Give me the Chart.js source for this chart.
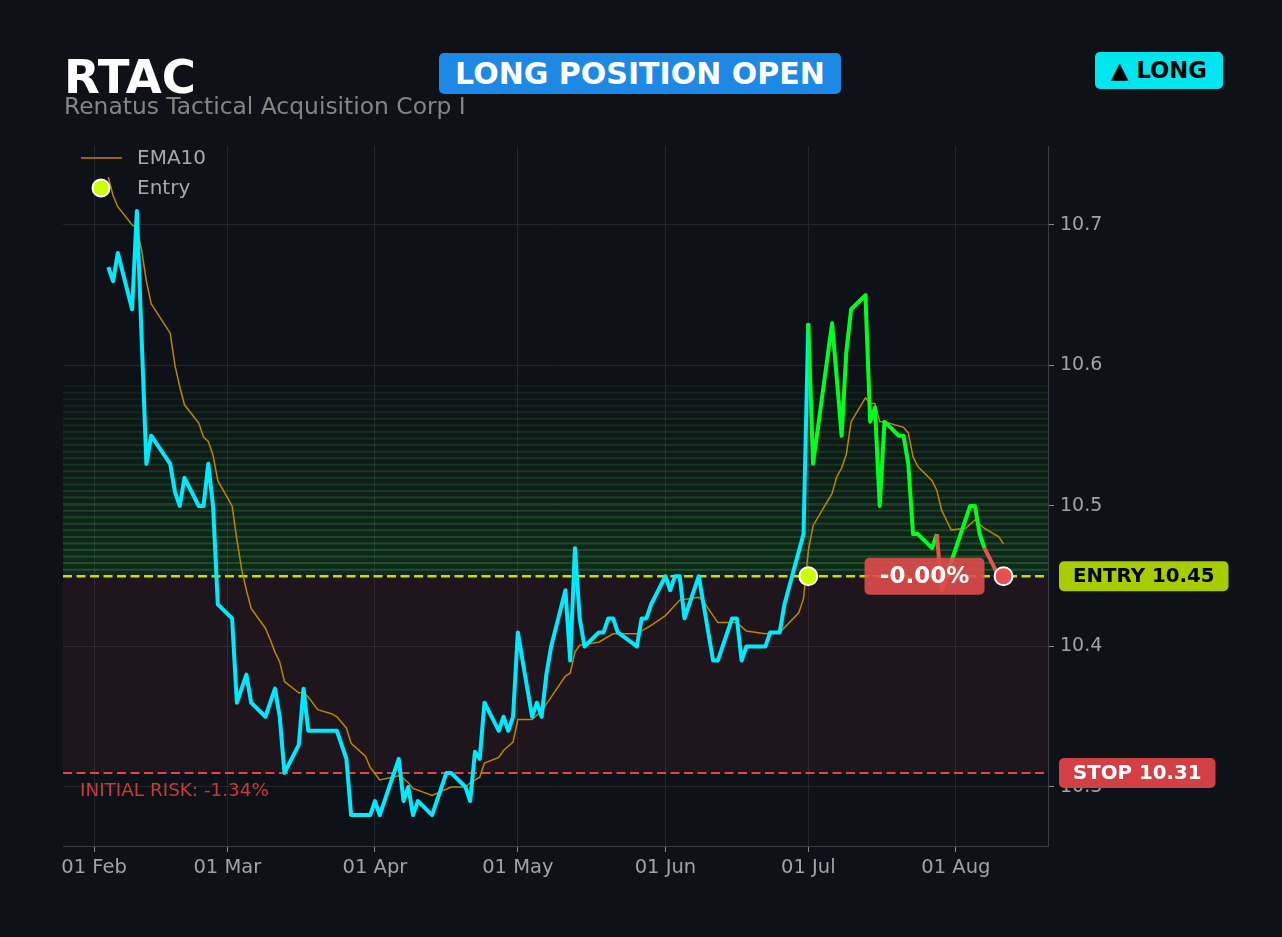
<!DOCTYPE html>
<html>
<head>
<meta charset="utf-8">
<title>RTAC</title>
<script src="https://cdn.jsdelivr.net/npm/chart.js@4.4.1/dist/chart.umd.min.js"></script>
<style>
html, body { margin: 0; padding: 0; background: #0e1117; }
#wrap { position: relative; width: 1282px; height: 937px; overflow: hidden; font-family: "DejaVu Sans", sans-serif; }
#chart { position: absolute; left: 0; top: 0; }
.hdr { position: absolute; white-space: nowrap; }
#ticker { left: 64px; top: 54px; font-size: 46.5px; line-height: 46.5px; font-weight: bold; color: #ffffff; }
#name { left: 64px; top: 95px; font-size: 23.4px; line-height: 23.4px; color: #858585; }
.badge { position: absolute; display: flex; align-items: center; justify-content: center; border-radius: 5px; font-weight: bold; white-space: nowrap; }
#status { left: 439px; top: 53px; width: 402px; height: 41px; background: #1e88e5; color: #ffffff; font-size: 30px; line-height: 30px; }
#side { left: 1095px; top: 52px; width: 128px; height: 37px; background: #00e5ee; color: #000000; font-size: 22.7px; line-height: 22.7px; }
</style>
</head>
<body>
<div id="wrap">
  <canvas id="chart" width="1282" height="937"></canvas>
  <div class="hdr" id="ticker">RTAC</div>
  <div class="hdr" id="name">Renatus Tactical Acquisition Corp I</div>
  <div class="badge" id="status">LONG POSITION OPEN</div>
  <div class="badge" id="side">▲ LONG</div>
</div>
<script>
// ========================================
// DATA
// ========================================

// Closing prices (turning points of the line)
const priceDates = [
    '2026-02-04','2026-02-05','2026-02-06','2026-02-09','2026-02-10','2026-02-12','2026-02-13',
    '2026-02-17','2026-02-18','2026-02-19','2026-02-20','2026-02-23','2026-02-24','2026-02-25',
    '2026-02-26','2026-02-27','2026-03-02','2026-03-03','2026-03-05','2026-03-06','2026-03-09',
    '2026-03-11','2026-03-12','2026-03-13','2026-03-16','2026-03-17','2026-03-18','2026-03-24',
    '2026-03-26','2026-03-27','2026-03-31','2026-04-01','2026-04-02','2026-04-06','2026-04-07',
    '2026-04-08','2026-04-09','2026-04-10','2026-04-13','2026-04-16','2026-04-17','2026-04-20',
    '2026-04-21','2026-04-22','2026-04-23','2026-04-24','2026-04-27','2026-04-28','2026-04-29',
    '2026-04-30','2026-05-01','2026-05-04','2026-05-05','2026-05-06','2026-05-07','2026-05-08',
    '2026-05-11','2026-05-12','2026-05-13','2026-05-14','2026-05-15','2026-05-18','2026-05-19',
    '2026-05-20','2026-05-21','2026-05-22','2026-05-26','2026-05-27','2026-05-28','2026-05-29',
    '2026-06-01','2026-06-02','2026-06-03','2026-06-04','2026-06-05','2026-06-08','2026-06-11',
    '2026-06-12','2026-06-15','2026-06-16','2026-06-17','2026-06-18','2026-06-22','2026-06-23',
    '2026-06-25','2026-06-26','2026-06-30','2026-07-01','2026-07-02','2026-07-06','2026-07-08',
    '2026-07-09','2026-07-10','2026-07-13','2026-07-14','2026-07-15','2026-07-16','2026-07-17',
    '2026-07-20','2026-07-21','2026-07-22','2026-07-23','2026-07-24','2026-07-27','2026-07-28',
    '2026-07-29','2026-07-30','2026-08-04','2026-08-05','2026-08-06','2026-08-07','2026-08-10',
    '2026-08-11'
];
const priceValues = [
    10.67, 10.66, 10.68, 10.64, 10.71, 10.53, 10.55,
    10.53, 10.51, 10.50, 10.52, 10.50, 10.50, 10.53,
    10.50, 10.43, 10.42, 10.36, 10.38, 10.36, 10.35,
    10.37, 10.35, 10.31, 10.33, 10.37, 10.34, 10.34,
    10.32, 10.28, 10.28, 10.29, 10.28, 10.32, 10.29,
    10.30, 10.28, 10.29, 10.28, 10.31, 10.31, 10.30,
    10.29, 10.325, 10.32, 10.36, 10.34, 10.35, 10.34,
    10.35, 10.41, 10.35, 10.36, 10.35, 10.38, 10.40,
    10.44, 10.39, 10.47, 10.42, 10.40, 10.41, 10.41,
    10.42, 10.42, 10.41, 10.40, 10.42, 10.42, 10.43,
    10.45, 10.44, 10.45, 10.45, 10.42, 10.45, 10.39,
    10.39, 10.42, 10.42, 10.39, 10.40, 10.40, 10.41,
    10.41, 10.43, 10.48, 10.63, 10.53, 10.63, 10.55,
    10.61, 10.64, 10.65, 10.56, 10.57, 10.50, 10.56,
    10.55, 10.55, 10.53, 10.48, 10.48, 10.47, 10.48,
    10.44, 10.45, 10.50, 10.50, 10.48, 10.47, 10.45,
    10.45
];

// EMA10
const emaDates = [
    '2026-02-04','2026-02-05','2026-02-06','2026-02-09','2026-02-10','2026-02-11','2026-02-12',
    '2026-02-13','2026-02-17','2026-02-18','2026-02-19','2026-02-20','2026-02-23','2026-02-24',
    '2026-02-25','2026-02-26','2026-02-27','2026-03-02','2026-03-03','2026-03-04','2026-03-05',
    '2026-03-06','2026-03-09','2026-03-10','2026-03-11','2026-03-12','2026-03-13','2026-03-16',
    '2026-03-17','2026-03-18','2026-03-20','2026-03-23','2026-03-24','2026-03-26','2026-03-27',
    '2026-03-30','2026-03-31','2026-04-02','2026-04-06','2026-04-07','2026-04-08','2026-04-09',
    '2026-04-13','2026-04-17','2026-04-20','2026-04-21','2026-04-23','2026-04-24','2026-04-27',
    '2026-04-28','2026-04-30','2026-05-01','2026-05-04','2026-05-06','2026-05-08','2026-05-11',
    '2026-05-12','2026-05-13','2026-05-14','2026-05-18','2026-05-21','2026-05-26','2026-05-29',
    '2026-06-01','2026-06-04','2026-06-08','2026-06-09','2026-06-12','2026-06-16','2026-06-18',
    '2026-06-22','2026-06-25','2026-06-29','2026-06-30','2026-07-01','2026-07-02','2026-07-06',
    '2026-07-07','2026-07-08','2026-07-09','2026-07-10','2026-07-13','2026-07-14','2026-07-15',
    '2026-07-16','2026-07-17','2026-07-21','2026-07-22','2026-07-23','2026-07-24','2026-07-27',
    '2026-07-28','2026-07-29','2026-07-30','2026-07-31','2026-08-03','2026-08-05','2026-08-07',
    '2026-08-10','2026-08-11'
];
const emaValues = [
    10.734, 10.721, 10.713, 10.700, 10.698, 10.682, 10.660,
    10.644, 10.623, 10.600, 10.585, 10.572, 10.559, 10.549,
    10.546, 10.536, 10.518, 10.500, 10.476, 10.455, 10.440,
    10.427, 10.413, 10.405, 10.396, 10.389, 10.375, 10.367,
    10.367, 10.364, 10.355, 10.352, 10.350, 10.342, 10.331,
    10.322, 10.314, 10.305, 10.308, 10.306, 10.303, 10.299,
    10.294, 10.300, 10.300, 10.303, 10.307, 10.317, 10.321,
    10.326, 10.332, 10.348, 10.348, 10.354, 10.364, 10.379,
    10.381, 10.396, 10.401, 10.403, 10.409, 10.409, 10.415,
    10.422, 10.433, 10.435, 10.432, 10.417, 10.417, 10.411,
    10.409, 10.410, 10.424, 10.434, 10.468, 10.486, 10.509,
    10.521, 10.527, 10.537, 10.560, 10.577, 10.573, 10.573,
    10.560, 10.560, 10.556, 10.552, 10.535, 10.528, 10.518,
    10.511, 10.497, 10.490, 10.483, 10.484, 10.490, 10.484,
    10.478, 10.473
];

// Trade levels
const entryDate = '2026-07-01';
const entryPrice = 10.45;
const stopPrice = 10.31;

// Axis ticks
const monthTicks = ['2026-02-01','2026-03-01','2026-04-01','2026-05-01','2026-06-01','2026-07-01','2026-08-01'];
const monthLabels = ['01 Feb','01 Mar','01 Apr','01 May','01 Jun','01 Jul','01 Aug'];
const priceTicks = [10.3, 10.4, 10.5, 10.6, 10.7];

// ========================================
// HELPERS
// ========================================

const CYAN = '#00eaff';
const GREEN = '#00ff1e';
const RED = '#e5534b';
const FONT = '"DejaVu Sans", sans-serif';

const START = Date.UTC(2026, 1, 1);
function dayOf(s) {
    return (Date.parse(s + 'T00:00:00Z') - START) / 86400000;
}

function roundRect(ctx, x, y, w, h, r) {
    ctx.beginPath();
    ctx.moveTo(x + r, y);
    ctx.arcTo(x + w, y, x + w, y + h, r);
    ctx.arcTo(x + w, y + h, x, y + h, r);
    ctx.arcTo(x, y + h, x, y, r);
    ctx.arcTo(x, y, x + w, y, r);
    ctx.closePath();
}

const entryIndex = priceDates.indexOf(entryDate);
const lastDate = priceDates[priceDates.length - 1];
const lastClose = priceValues[priceValues.length - 1];

// ========================================
// ZONES / LABELS PLUGIN
// ========================================

const tradeOverlay = {
    id: 'tradeOverlay',
    beforeDatasetsDraw(chart) {
        const { ctx, chartArea: a, scales: { y } } = chart;
        const w = a.right - a.left;
        const yE = y.getPixelForValue(entryPrice);
        const yS = y.getPixelForValue(stopPrice);
        const risk = entryPrice - stopPrice;
        const yT = y.getPixelForValue(entryPrice + risk);

        ctx.save();
        ctx.beginPath();
        ctx.rect(a.left, a.top, w, a.bottom - a.top);
        ctx.clip();

        // risk zone
        ctx.fillStyle = 'rgba(255,80,110,0.07)';
        ctx.fillRect(a.left, yE, w, yS - yE);

        // reward band, fading upward
        const g = ctx.createLinearGradient(0, yT - 10, 0, yE);
        g.addColorStop(0, 'rgba(40,200,70,0)');
        g.addColorStop(1, 'rgba(40,200,70,0.13)');
        ctx.fillStyle = g;
        ctx.fillRect(a.left, yT - 10, w, yE - yT + 10);
        const N = 30;
        ctx.lineWidth = 2;
        for (let i = 1; i < N; i++) {
            const yy = y.getPixelForValue(entryPrice + risk * i / N);
            ctx.strokeStyle = 'rgba(50,190,60,' + (0.08 + 0.22 * (1 - i / N)).toFixed(3) + ')';
            ctx.beginPath();
            ctx.moveTo(a.left, yy);
            ctx.lineTo(a.right, yy);
            ctx.stroke();
        }

        // entry / stop lines
        ctx.setLineDash([9, 4.5]);
        ctx.lineWidth = 2.5;
        ctx.strokeStyle = '#c8dc00';
        ctx.beginPath();
        ctx.moveTo(a.left, yE);
        ctx.lineTo(a.right, yE);
        ctx.stroke();
        ctx.lineWidth = 2;
        ctx.strokeStyle = '#e04848';
        ctx.beginPath();
        ctx.moveTo(a.left, yS);
        ctx.lineTo(a.right, yS);
        ctx.stroke();
        ctx.restore();
    },
    afterDraw(chart) {
        const { ctx, chartArea: a, scales: { x, y } } = chart;
        const yE = y.getPixelForValue(entryPrice);
        const yS = y.getPixelForValue(stopPrice);

        ctx.save();
        ctx.textBaseline = 'middle';

        // P&L badge next to last price
        const pnl = (lastClose - entryPrice) / entryPrice * 100;
        const pnlText = (pnl > 0 ? '+' : '-') + Math.abs(pnl).toFixed(2) + '%';
        const xL = x.getPixelForValue(dayOf(lastDate));
        const yL = y.getPixelForValue(lastClose);
        roundRect(ctx, xL - 19 - 120, yL - 18.5, 120, 37, 5);
        ctx.fillStyle = 'rgba(224,76,76,0.9)';
        ctx.fill();
        ctx.fillStyle = '#ffffff';
        ctx.font = 'bold 23px ' + FONT;
        ctx.textAlign = 'center';
        ctx.fillText(pnlText, xL - 19 - 60, yL + 1);

        // initial risk text
        const riskPct = (stopPrice - entryPrice) / entryPrice * 100;
        ctx.textAlign = 'left';
        ctx.font = '18.4px ' + FONT;
        ctx.fillStyle = '#c43c3c';
        ctx.fillText('INITIAL RISK: ' + riskPct.toFixed(2) + '%', a.left + 17, yS + 18);

        // right side level badges
        ctx.font = 'bold 19.8px ' + FONT;
        const levels = [
            { text: 'ENTRY ' + entryPrice.toFixed(2), yy: yE, bg: '#a8cc00', fg: '#000000' },
            { text: 'STOP ' + stopPrice.toFixed(2), yy: yS, bg: '#d04044', fg: '#ffffff' }
        ];
        levels.forEach(l => {
            const tw = ctx.measureText(l.text).width;
            roundRect(ctx, a.right + 11, l.yy - 15, tw + 28, 30, 5);
            ctx.fillStyle = l.bg;
            ctx.fill();
            ctx.fillStyle = l.fg;
            ctx.fillText(l.text, a.right + 25, l.yy + 1);
        });

        // legend
        ctx.font = '20px ' + FONT;
        ctx.fillStyle = '#a8a8a8';
        ctx.strokeStyle = '#b8860b';
        ctx.lineWidth = 1.5;
        ctx.beginPath();
        ctx.moveTo(a.left + 18, a.top + 12);
        ctx.lineTo(a.left + 59, a.top + 12);
        ctx.stroke();
        ctx.fillText('EMA10', a.left + 74, a.top + 13);
        ctx.beginPath();
        ctx.arc(a.left + 38, a.top + 42, 8.5, 0, Math.PI * 2);
        ctx.fillStyle = '#ccff00';
        ctx.fill();
        ctx.lineWidth = 2;
        ctx.strokeStyle = '#ffffff';
        ctx.stroke();
        ctx.fillStyle = '#a8a8a8';
        ctx.fillText('Entry', a.left + 74, a.top + 43);
        ctx.restore();
    }
};

// ========================================
// CHART
// ========================================

Chart.defaults.font.family = FONT;

const ctx = document.getElementById('chart').getContext('2d');

new Chart(ctx, {
    type: 'line',
    data: {
        datasets: [
            {
                label: 'Close',
                data: priceDates.map((d, i) => ({ x: dayOf(d), y: priceValues[i] })),
                borderWidth: 4,
                borderColor: CYAN,
                borderJoinStyle: 'round',
                pointRadius: 0,
                tension: 0,
                order: 1,
                segment: {
                    borderColor: c => {
                        if (c.p1DataIndex <= entryIndex) return CYAN;
                        return c.p1.parsed.y > entryPrice ? GREEN : RED;
                    }
                }
            },
            {
                label: 'EMA10',
                data: emaDates.map((d, i) => ({ x: dayOf(d), y: emaValues[i] })),
                borderWidth: 1.5,
                borderColor: '#b8860b',
                pointRadius: 0,
                tension: 0,
                order: 2
            },
            {
                label: 'Entry',
                data: [{ x: dayOf(entryDate), y: entryPrice }],
                showLine: false,
                pointRadius: 9,
                pointBackgroundColor: '#ccff00',
                pointBorderColor: '#ffffff',
                pointBorderWidth: 2,
                order: 0
            },
            {
                label: 'Last',
                data: [{ x: dayOf(lastDate), y: lastClose }],
                showLine: false,
                pointRadius: 9,
                pointBackgroundColor: '#e8504f',
                pointBorderColor: '#ffffff',
                pointBorderWidth: 2,
                order: 0
            }
        ]
    },
    options: {
        responsive: false,
        animation: false,
        devicePixelRatio: 1,
        layout: { padding: { left: 63, top: 146, right: 0, bottom: 0 } },
        plugins: {
            legend: { display: false },
            tooltip: { enabled: false },
            title: { display: false }
        },
        scales: {
            x: {
                type: 'linear',
                min: -6.51,
                max: 200.34,
                afterBuildTicks: axis => {
                    axis.ticks = monthTicks.map(d => ({ value: dayOf(d) }));
                },
                afterFit: axis => { axis.height = 91; },
                ticks: {
                    autoSkip: false,
                    maxRotation: 0,
                    padding: 4,
                    color: '#a3a3a3',
                    font: { size: 19.5 },
                    callback: (v, i) => monthLabels[i]
                },
                grid: { color: '#23262c', tickColor: '#8a8a8a', tickLength: 6 },
                border: { display: true, color: '#3a3d42' }
            },
            y: {
                type: 'linear',
                position: 'right',
                min: 10.258,
                max: 10.7562,
                afterBuildTicks: axis => {
                    axis.ticks = priceTicks.map(v => ({ value: v }));
                },
                afterFit: axis => { axis.width = 234; },
                ticks: {
                    padding: 6,
                    color: '#a3a3a3',
                    font: { size: 19 },
                    callback: v => v.toFixed(1)
                },
                grid: { color: '#23262c', tickColor: '#8a8a8a', tickLength: 6 },
                border: { display: true, color: '#3a3d42' }
            }
        }
    },
    plugins: [tradeOverlay]
});
</script>
</body>
</html>
